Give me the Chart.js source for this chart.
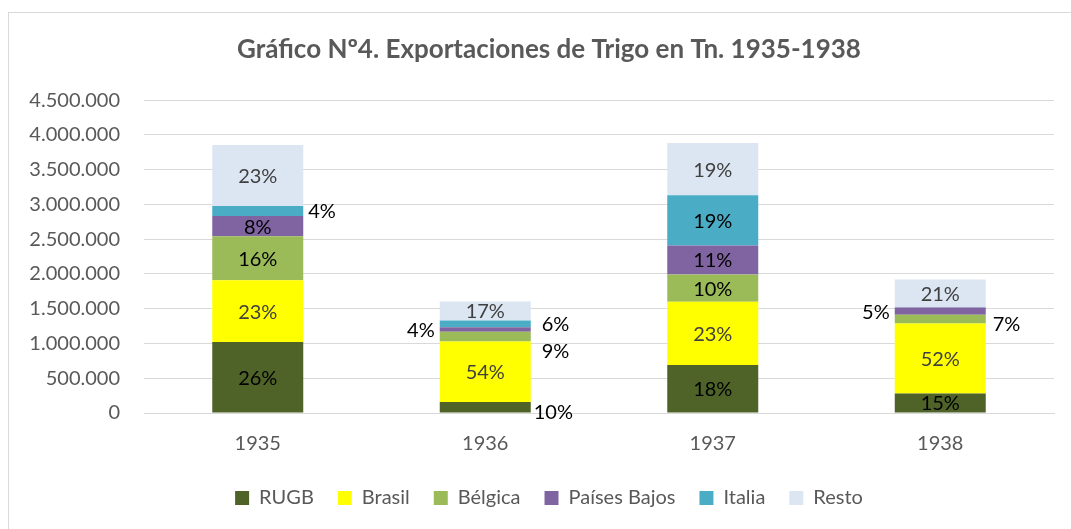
<!DOCTYPE html>
<html><head><meta charset="utf-8">
<script src="https://cdn.jsdelivr.net/npm/chart.js@4.4.1/dist/chart.umd.min.js"></script>
<style>html,body{margin:0;padding:0;background:#fff;overflow:hidden}#wrap{width:1071px;height:529px;position:relative}</style>
</head><body><div id="wrap"><canvas id="c" width="1071" height="529"></canvas></div>
<script>
const years = ['1935','1936','1937','1938'];
const rugb = [1020000, 160000, 690000, 280000];
const brasil = [891000, 870000, 911000, 1006000];
const belgica = [632000, 139000, 392000, 129000];
const paisesBajos = [292000, 66000, 417000, 101000];
const italia = [144000, 96000, 723000, 5000];
const resto = [876000, 273000, 750000, 400000];
const yTicks = [0,500000,1000000,1500000,2000000,2500000,3000000,3500000,4000000,4500000];

const seriesNames = ['RUGB','Brasil','Bélgica','Países Bajos','Italia','Resto'];
const seriesData = [rugb, brasil, belgica, paisesBajos, italia, resto];
const colors = ['#4f6228','#ffff00','#9bbb59','#8064a2','#4bacc6','#dce6f2'];
const labelColors = ['#000','#404040','#000','#000','#000','#404040'];
// label placement per series per year: 'in', 'right', 'left', or '' (hidden)
const placement = [
  ['in','right','in','in'],
  ['in','in','in','in'],
  ['in','right','in','right'],
  ['in','left','in','left'],
  ['right','right','in',''],
  ['in','in','in','in']
];
// manual nudges [dx, dy] for outside labels, keyed "series-year"
const nudges = {'0-1':[-2,4],'2-1':[6,14],'4-1':[6,0],'2-3':[2,4]};
const FONT = 'Lato, "Open Sans", sans-serif';
const totals = years.map((_,i)=>seriesData.reduce((s,a)=>s+a[i],0));

function fmt(v){return String(v).replace(/\B(?=(\d{3})+(?!\d))/g,'.');}

const borderPlugin = {
  id:'border',
  beforeDraw(chart){
    const ctx=chart.ctx; ctx.save();
    ctx.fillStyle='#fff'; ctx.fillRect(0,0,chart.width,chart.height);
    ctx.strokeStyle='#d9d9d9'; ctx.lineWidth=1;
    ctx.strokeRect(8.5,12.5,1100,600);
    ctx.restore();
  }
};
const labelPlugin = {
  id:'pctLabels',
  afterDatasetsDraw(chart){
    const ctx=chart.ctx; ctx.save();
    ctx.font='20px '+FONT; ctx.textBaseline='middle';
    chart.data.datasets.forEach((ds,di)=>{
      const meta=chart.getDatasetMeta(di);
      meta.data.forEach((bar,i)=>{
        const p=placement[di][i]; if(!p) return;
        const pct=Math.round(ds.data[i]/totals[i]*100)+'%';
        const [dx,dy]=nudges[di+'-'+i]||[0,0];
        const y=(bar.y+bar.base)/2+1+dy;
        const half=bar.width/2;
        if(p==='in'){ctx.fillStyle=labelColors[di];ctx.textAlign='center';ctx.fillText(pct,bar.x,y);}
        else if(p==='right'){ctx.fillStyle='#000';ctx.textAlign='left';ctx.fillText(pct,bar.x+half+5+dx,y);}
        else {ctx.fillStyle='#000';ctx.textAlign='right';ctx.fillText(pct,bar.x-half-5+dx,y);}
      });
    });
    ctx.restore();
  }
};

new Chart(document.getElementById('c'),{
  type:'bar',
  data:{labels:years,datasets:seriesNames.map((n,k)=>({label:n,data:seriesData[k],backgroundColor:colors[k],borderWidth:0,barPercentage:0.8,categoryPercentage:0.5}))},
  options:{
    responsive:false,animation:false,
    layout:{padding:{left:10,right:-17,top:28,bottom:11}},
    plugins:{
      title:{display:true,text:'Gráfico Nº4. Exportaciones de Trigo en Tn. 1935-1938',color:'#595959',font:{family:FONT,size:26,weight:'bold'},padding:{top:6,bottom:35}},
      legend:{position:'bottom',labels:{color:'#595959',font:{family:FONT,size:20},boxWidth:14,boxHeight:14,padding:24}},
      tooltip:{enabled:false}
    },
    scales:{
      x:{stacked:true,grid:{display:false},border:{display:true,color:'#d9d9d9'},ticks:{color:'#595959',font:{family:FONT,size:20},padding:11},
         afterFit(s){s.height=51;}},
      y:{stacked:true,min:0,max:4500000,afterBuildTicks(s){s.ticks=yTicks.map(v=>({value:v}));},
         afterFit(s){s.width=134;},
         grid:{color:'#d9d9d9',drawTicks:false},border:{display:false},
         ticks:{color:'#595959',font:{family:FONT,size:20},padding:24,callback:v=>fmt(v)}},
      yR:{position:'right',min:0,max:1,grid:{display:false},border:{display:false},ticks:{display:false},
         afterFit(s){s.width=34;}}
    }
  },
  plugins:[borderPlugin,labelPlugin]
});
</script></body></html>
